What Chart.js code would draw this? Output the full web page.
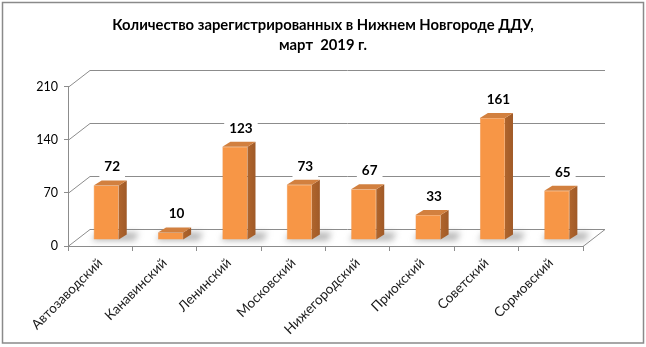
<!DOCTYPE html>
<html>
<head>
<meta charset="utf-8">
<script src="https://cdn.jsdelivr.net/npm/chart.js@4.4.0/dist/chart.umd.min.js"></script>
<style>
  body { margin: 0; background: #fff; }
  canvas { display: block; }
</style>
</head>
<body>
<canvas id="ddu" width="646" height="347"></canvas>
<script>
const districts = ['Автозаводский', 'Канавинский', 'Ленинский', 'Московский',
                   'Нижегородский', 'Приокский', 'Советский', 'Сормовский'];
const dduCount = [72, 10, 123, 73, 67, 33, 161, 65];
const yMax = 210;
const yStep = 70;
const titleLines = ['Количество зарегистрированных в Нижнем Новгороде ДДУ,', 'март  2019 г.'];

// pseudo-3d geometry: back wall offset, bar plane offset, bar depth
const wallDX = 22, wallDY = -17;
const barDX = 6, barDY = -6;
const sideDX = 8, sideDY = -5;
const gridColor = '#8c8c8c';

const box3d = {
  id: 'box3d',
  beforeDatasetsDraw(chart) {
    const ctx = chart.ctx;
    const y = chart.scales.y;
    const left = chart.chartArea.left, right = chart.chartArea.right;
    ctx.save();
    ctx.strokeStyle = gridColor;
    ctx.lineWidth = 1;
    // back wall and left wall lines
    for (let v = 0; v <= yMax; v += yStep) {
      const py = Math.round(y.getPixelForValue(v)) + 0.5;
      ctx.beginPath();
      ctx.moveTo(left, py);
      ctx.lineTo(left + wallDX, py + wallDY);
      ctx.lineTo(right + wallDX, py + wallDY);
      ctx.stroke();
    }
    // right edge of the floor
    const by = Math.round(y.getPixelForValue(0)) + 0.5;
    ctx.beginPath();
    ctx.moveTo(right, by);
    ctx.lineTo(right + wallDX, by + wallDY);
    ctx.stroke();

    // soft shadows on the floor
    const meta = chart.getDatasetMeta(0);
    ctx.filter = 'blur(3px)';
    ctx.fillStyle = 'rgba(120,120,120,0.55)';
    meta.data.forEach(bar => {
      const p = bar.getProps(['x', 'base', 'width'], true);
      const x0 = p.x - p.width / 2 + barDX;
      const x1 = p.x + p.width / 2 + barDX;
      const b = p.base + barDY;
      ctx.beginPath();
      ctx.moveTo(x0 - 2, b + 1);
      ctx.lineTo(x1 + 16, b + 1);
      ctx.lineTo(x1 + sideDX + 12, b + sideDY - 2);
      ctx.lineTo(x0 + 4, b + sideDY - 2);
      ctx.closePath();
      ctx.fill();
    });
    ctx.filter = 'none';
    ctx.restore();

    // front faces are drawn by the library, shifted into the floor
    ctx.save();
    ctx.translate(barDX, barDY);
  },
  afterDatasetsDraw(chart) {
    const ctx = chart.ctx;
    const meta = chart.getDatasetMeta(0);
    meta.data.forEach(bar => {
      const p = bar.getProps(['x', 'y', 'base', 'width'], true);
      const x0 = p.x - p.width / 2, x1 = p.x + p.width / 2;
      const grd = ctx.createLinearGradient(x1, 0, x1 + sideDX, 0);
      grd.addColorStop(0, '#b0652c');
      grd.addColorStop(1, '#a05a28');
      ctx.fillStyle = grd;
      ctx.beginPath();
      ctx.moveTo(x1, p.y);
      ctx.lineTo(x1 + sideDX, p.y + sideDY);
      ctx.lineTo(x1 + sideDX, p.base + sideDY);
      ctx.lineTo(x1, p.base);
      ctx.closePath();
      ctx.fill();
      ctx.fillStyle = '#d2803f';
      ctx.beginPath();
      ctx.moveTo(x0, p.y);
      ctx.lineTo(x1, p.y);
      ctx.lineTo(x1 + sideDX, p.y + sideDY);
      ctx.lineTo(x0 + sideDX, p.y + sideDY);
      ctx.closePath();
      ctx.fill();
    });
    ctx.restore();

    // value labels on white boxes
    ctx.save();
    ctx.font = 'bold 13.5px Lato';
    ctx.textAlign = 'center';
    ctx.textBaseline = 'middle';
    meta.data.forEach((bar, i) => {
      const p = bar.getProps(['x', 'y'], true);
      const txt = String(dduCount[i]);
      const lx = p.x + barDX + 6;
      const ly = p.y + barDY - 18.5;
      const w = ctx.measureText(txt).width + 10;
      ctx.fillStyle = '#fff';
      ctx.fillRect(lx - w / 2, ly - 10, w, 21);
      ctx.fillStyle = '#000';
      ctx.fillText(txt, lx, ly);
    });
    ctx.restore();
  },
  afterDraw(chart) {
    const ctx = chart.ctx;
    ctx.save();
    ctx.strokeStyle = '#8a8a8a';
    ctx.lineWidth = 1.5;
    ctx.strokeRect(2.5, 2.5, 641, 340.5);
    ctx.restore();
  }
};

new Chart(document.getElementById('ddu'), {
  type: 'bar',
  data: {
    labels: districts,
    datasets: [{
      data: dduCount,
      backgroundColor: '#f79646',
      borderColor: '#e4843a',
      borderWidth: 0.5,
      categoryPercentage: 1,
      barPercentage: 0.39
    }]
  },
  options: {
    responsive: false,
    animation: false,
    layout: { padding: 0 },
    plugins: {
      legend: { display: false },
      tooltip: { enabled: false },
      title: {
        display: true,
        text: titleLines,
        color: '#000',
        font: { family: 'Lato', size: 14.8, weight: 'bold', lineHeight: 1.35 },
        padding: { top: 15, bottom: 32 }
      }
    },
    scales: {
      x: {
        grid: { drawOnChartArea: false, offset: true, tickLength: 5, color: gridColor },
        border: { display: true, color: gridColor },
        ticks: {
          minRotation: 45, maxRotation: 45, padding: 4,
          color: '#1a1a1a', font: { family: 'Lato', size: 13.5 }
        },
        afterFit(s) { s.height = 101; }
      },
      y: {
        min: 0, max: yMax,
        grid: { drawOnChartArea: false, tickLength: 4, color: gridColor },
        border: { display: true, color: gridColor },
        ticks: { stepSize: yStep, padding: 6, color: '#000', font: { family: 'Lato', size: 12.5 } },
        afterFit(s) { s.width = 68; }
      },
      // empty right-hand axis that reserves room for the back wall
      yRight: {
        position: 'right',
        grid: { display: false },
        border: { display: false },
        ticks: { display: false },
        afterFit(s) { s.width = 63; }
      }
    }
  },
  plugins: [box3d]
});
</script>
</body>
</html>
